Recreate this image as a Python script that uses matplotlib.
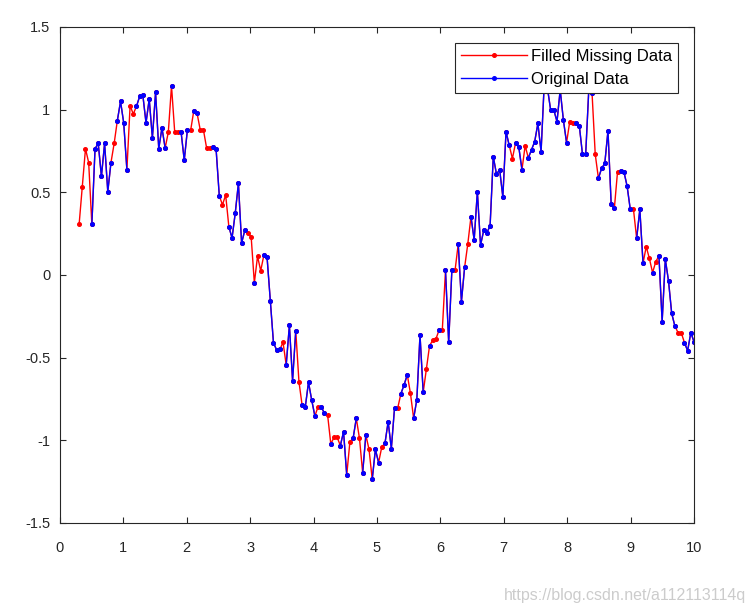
import numpy as np
import matplotlib
matplotlib.use("Agg")
import matplotlib.pyplot as plt

plt.rcParams['font.family'] = ['Liberation Sans', 'DejaVu Sans']
plt.rcParams['axes.unicode_minus'] = False

# sample points (linspace 0..10, first six not shown)
x = np.linspace(0, 10, 200)[6:]

# filled data (F)
filled = [
    0.306, 0.534, 0.764, 0.680, 0.306, 0.764, 0.796, 0.596, 0.796, 0.504,
    0.680, 0.796, 0.934, 1.050, 0.920, 0.636, 1.024, 0.974, 1.020, 1.080,
    1.088, 0.920, 1.064, 0.830, 1.104, 0.764, 0.890, 0.768, 0.864, 1.144,
    0.866, 0.866, 0.866, 0.694, 0.880, 0.874, 0.994, 0.980, 0.880, 0.880,
    0.770, 0.770, 0.776, 0.760, 0.478, 0.425, 0.484, 0.292, 0.224, 0.373,
    0.555, 0.193, 0.270, 0.254, 0.232, -0.048, 0.113, 0.026, 0.121, 0.106,
    -0.155, -0.409, -0.454, -0.450, -0.407, -0.544, -0.305, -0.639, -0.337, -0.645,
    -0.788, -0.797, -0.649, -0.756, -0.853, -0.797, -0.797, -0.837, -0.847, -1.022,
    -0.982, -0.982, -1.032, -0.948, -1.210, -1.008, -0.988, -0.867, -0.988, -1.196,
    -0.968, -1.055, -1.236, -1.055, -1.135, -1.040, -1.018, -0.887, -1.050, -0.805,
    -0.805, -0.718, -0.665, -0.603, -0.716, -0.867, -0.754, -0.363, -0.710, -0.567,
    -0.427, -0.395, -0.386, -0.333, -0.333, 0.028, -0.407, 0.030, 0.028, 0.188,
    -0.161, 0.046, 0.188, 0.353, 0.212, 0.504, 0.181, 0.270, 0.256, 0.298,
    0.716, 0.610, 0.637, 0.472, 0.867, 0.784, 0.704, 0.800, 0.774, 0.637,
    0.782, 0.708, 0.758, 0.807, 0.917, 0.746, 1.160, 1.130, 0.998, 0.998,
    0.928, 1.120, 0.938, 0.800, 0.928, 0.921, 0.917, 0.903, 0.730, 0.730,
    1.130, 1.100, 0.730, 0.585, 0.645, 0.675, 0.873, 0.430, 0.403, 0.625,
    0.629, 0.625, 0.538, 0.397, 0.397, 0.222, 0.397, 0.071, 0.171, 0.100,
    0.014, 0.081, 0.115, -0.282, 0.095, -0.036, -0.232, -0.309, -0.349, -0.349,
    -0.409, -0.458, -0.349, -0.403,
]

# 1 = value was missing and got filled
missing = [
    1, 1, 1, 1, 0, 0, 0, 0, 0, 0,
    0, 1, 0, 0, 0, 0, 1, 1, 0, 0,
    0, 0, 0, 0, 0, 0, 0, 0, 1, 0,
    1, 1, 0, 0, 0, 1, 0, 0, 1, 1,
    1, 1, 0, 0, 0, 1, 1, 0, 0, 0,
    0, 0, 0, 1, 1, 0, 1, 1, 0, 0,
    0, 0, 0, 0, 1, 0, 0, 0, 0, 1,
    0, 0, 0, 0, 0, 1, 0, 0, 1, 0,
    1, 1, 0, 0, 0, 1, 0, 0, 1, 0,
    0, 1, 0, 0, 0, 1, 0, 0, 0, 0,
    1, 0, 0, 0, 1, 0, 0, 0, 0, 1,
    0, 1, 1, 0, 1, 0, 0, 0, 1, 0,
    0, 0, 1, 0, 0, 0, 0, 0, 0, 0,
    0, 0, 0, 0, 0, 0, 1, 0, 0, 0,
    1, 0, 0, 0, 0, 0, 0, 0, 0, 0,
    0, 0, 0, 0, 1, 1, 0, 0, 0, 0,
    0, 0, 1, 0, 0, 0, 0, 0, 0, 1,
    0, 0, 0, 0, 1, 0, 0, 0, 1, 1,
    0, 1, 0, 0, 0, 0, 0, 0, 1, 1,
    0, 0, 0, 0,
]

filled = np.array(filled)
original = np.where(np.array(missing) == 1, np.nan, filled)

fig = plt.figure(figsize=(7.51, 6.13), dpi=100)
ax = fig.add_axes([60/751, 1 - 523/613, 634/751, 496/613])

ax.plot(x, filled, '-', color='red', lw=1.0, marker='o', ms=2.6,
        label='Filled Missing Data')
ax.plot(x, original, '-', color='blue', lw=1.0, marker='o', ms=2.6,
        label='Original Data')

ax.set_xlim(0, 10)
ax.set_ylim(-1.5, 1.5)
ax.set_xticks(range(0, 11))
ax.set_yticks([-1.5, -1, -0.5, 0, 0.5, 1, 1.5])
ax.set_yticklabels(['-1.5', '-1', '-0.5', '0', '0.5', '1', '1.5'])

gray = '#262626'
for s in ax.spines.values():
    s.set_color(gray)
    s.set_linewidth(0.8)
ax.tick_params(direction='in', length=4.5, width=0.8, color=gray,
               labelcolor=gray, labelsize=10.5, top=True, right=True)
ax.tick_params(axis='x', pad=13)
ax.tick_params(axis='y', pad=7)

leg = ax.legend(loc='upper right', fontsize=12, fancybox=False,
                edgecolor=gray, framealpha=1, handlelength=3.95,
                handletextpad=0.25, borderaxespad=0.95, labelspacing=0.5,
                borderpad=0.35)
leg.get_frame().set_linewidth(0.8)

fig.text(0.993, 0.016, 'https://blog.csdn.net/a112113114q', ha='right',
         va='bottom', fontsize=11.5, color='#cccccc')

fig.savefig('out.png', dpi=100)
